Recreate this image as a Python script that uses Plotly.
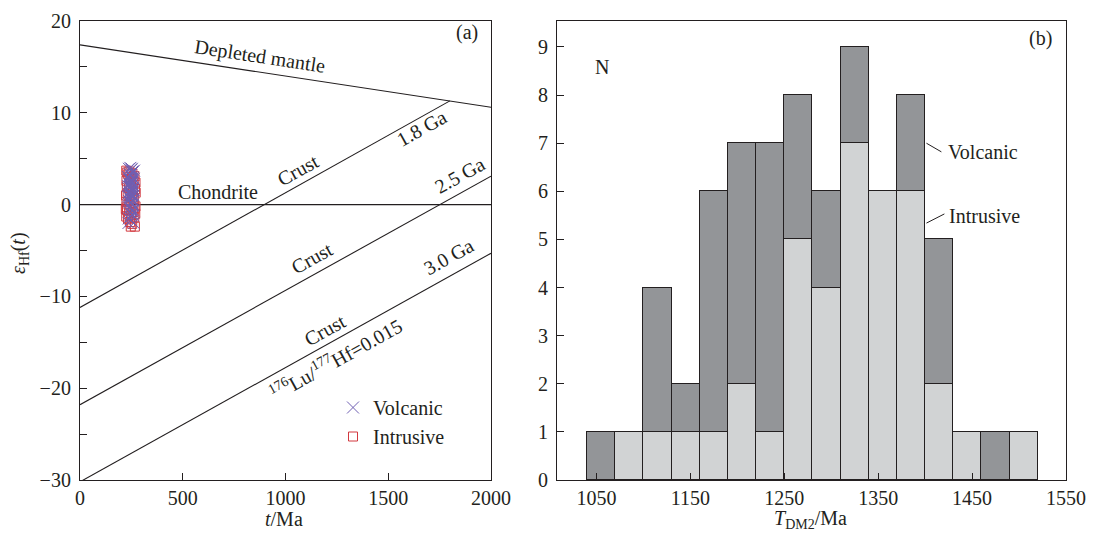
import plotly.graph_objects as go

# ---------------- data: panel (a) ----------------
volc_t = [245, 250, 255, 248, 252, 258, 242, 246, 251, 256, 260, 244, 249, 253,
          257, 247, 250, 254, 243, 259, 248, 252, 255, 246, 250, 253, 241, 257,
          249, 251, 254, 247, 245, 256, 250, 252, 236, 262, 238, 261, 234, 240,
          262, 236, 258, 238, 244, 260, 235, 255, 242, 261, 237, 247, 259, 239,
          253, 234, 263, 241]
volc_e = [4.0, 3.8, 3.5, 3.2, 3.0, 2.9, 2.7, 2.5, 2.4, 2.2, 2.0, 1.9, 1.7, 1.5,
          1.4, 1.2, 1.0, 0.9, 0.7, 0.5, 0.3, 0.1, -0.1, -0.3, -0.5, -0.7, 0.8, 1.8,
          2.6, 3.4, -1.0, -1.3, 2.1, 0.4, 1.1, 3.9, -2.0, -2.0, 3.9, 1.6, 3.0,
          2.3, 2.8, 1.2, 0.0, 0.4, -0.9, -0.6, 2.0, 3.6, 3.3, 1.0, -1.5, -1.7,
          -1.2, 2.9, 2.5, 0.9, 3.7, 1.4]

intr_t = [225, 230, 235, 240, 245, 250, 255, 260, 265, 270, 228, 238, 248, 258,
          268, 232, 242, 252, 262, 226, 236, 246, 256, 266, 229, 239, 249, 259,
          269, 234, 244, 254, 264, 227, 247, 267, 224, 223, 226, 271, 270, 225]
intr_e = [3.7, 3.5, 3.3, 3.6, 3.0, 2.8, 3.4, 2.6, 3.1, 2.4, 2.0, 1.8, 2.2, 1.5,
          1.7, 1.2, 0.9, 1.0, 0.6, 0.3, 0.0, -0.2, 0.2, -0.4, -0.6, -0.9, -1.2,
          -0.8, -1.0, -1.6, -1.9, -2.1, -1.4, -0.3, -2.4, -2.4, 1.0, -0.5, 2.6,
          1.3, -0.2, -1.3]

# evolution lines: (t in Ma, epsilon Hf)
dm_t, dm_e = [0, 2000], [17.4, 10.6]
chur_t, chur_e = [0, 2000], [0, 0]
c18_t, c18_e = [0, 1800], [-11.2, 11.3]
c25_t, c25_e = [0, 2000], [-21.8, 3.1]
c30_t, c30_e = [0, 2000], [-30.2, -5.3]

# ---------------- data: panel (b) ----------------
bin_left = [1040, 1070, 1100, 1130, 1160, 1190, 1220, 1250,
            1280, 1310, 1340, 1370, 1400, 1430, 1460, 1490]
bin_width = 30
n_intrusive = [0, 1, 1, 1, 1, 2, 1, 5, 4, 7, 6, 6, 2, 1, 0, 1]
n_volcanic = [1, 0, 3, 1, 5, 5, 6, 3, 2, 2, 0, 2, 3, 0, 1, 0]

FONT = "Liberation Serif"
INK = "#231f20"
DARK = "#939598"
LIGHT = "#d1d3d4"

fig = go.Figure()

line_style = dict(color=INK, width=1.1)
for tx, ey in [(dm_t, dm_e), (chur_t, chur_e), (c18_t, c18_e), (c25_t, c25_e), (c30_t, c30_e)]:
    fig.add_trace(go.Scatter(x=tx, y=ey, mode="lines", line=line_style,
                             showlegend=False, hoverinfo="skip", xaxis="x", yaxis="y"))

fig.add_trace(go.Scatter(x=intr_t, y=intr_e, mode="markers", name="Intrusive",
                         marker=dict(symbol="square-open", size=9,
                                     color="#d2383f", line=dict(width=1)),
                         legendgroup="b", legendrank=2, xaxis="x", yaxis="y"))
fig.add_trace(go.Scatter(x=volc_t, y=volc_e, mode="markers", name="Volcanic",
                         marker=dict(symbol="x-thin-open", size=12,
                                     color="#6f5fb3", line=dict(width=1, color="#6f5fb3")),
                         legendgroup="a", legendrank=1, xaxis="x", yaxis="y"))

centers = [b + bin_width / 2 for b in bin_left]
fig.add_trace(go.Bar(x=centers, y=[v if v else None for v in n_intrusive],
                     width=bin_width, marker=dict(color=LIGHT, line=dict(color=INK, width=1.2)),
                     showlegend=False, xaxis="x2", yaxis="y2", hoverinfo="skip"))
fig.add_trace(go.Bar(x=centers, y=[v if v else None for v in n_volcanic],
                     width=bin_width, marker=dict(color=DARK, line=dict(color=INK, width=1.2)),
                     showlegend=False, xaxis="x2", yaxis="y2", hoverinfo="skip"))

# the page body adds an 8 px offset; size the figure to fill the rest of the window
OFF = 8
W, H = 1102 - OFF, 533 - OFF
def px(x): return (x - OFF) / W
def py(y): return 1 - (y - OFF) / H

axis_common = dict(showgrid=False, zeroline=False, showline=True, linecolor=INK,
                   linewidth=1.2, mirror=True, ticks="inside", tickcolor=INK,
                   ticklen=7, tickwidth=1, automargin=False,
                   tickfont=dict(family=FONT, size=20, color=INK))

fig.update_layout(
    width=W, height=H, margin=dict(l=0, r=0, t=0, b=0, autoexpand=False),
    plot_bgcolor="white", paper_bgcolor="white",
    barmode="stack", bargap=0,
    font=dict(family=FONT, size=20, color=INK),
    xaxis=dict(domain=[px(80), px(491)], range=[0, 2000], tickvals=[0, 500, 1000, 1500, 2000],
               anchor="y", **axis_common),
    yaxis=dict(domain=[py(480), py(21)], range=[-30, 20], tickvals=[-30, -20, -10, 0, 10, 20],
               minor=dict(tickvals=[-25, -15, -5, 5, 15], ticks="inside", ticklen=7, tickcolor=INK),
               anchor="x", ticklabelstandoff=4, **axis_common),
    xaxis2=dict(domain=[px(557), px(1066)], range=[1008, 1550],
                tickvals=[1050, 1150, 1250, 1350, 1450, 1550], anchor="y2", **axis_common),
    yaxis2=dict(domain=[py(480), py(21)], range=[0, 9.54], tickvals=list(range(0, 10)),
                anchor="x2", ticklabelstandoff=4, **axis_common),
    legend=dict(x=px(333), y=py(388), xanchor="left", yanchor="top",
                bgcolor="rgba(0,0,0,0)", font=dict(family=FONT, size=20, color=INK),
                traceorder="normal", tracegroupgap=2),
)

ann = []
def a(x, y, text, angle=0, xref="x", yref="y", xanchor="center", size=20):
    ann.append(dict(x=x, y=y, xref=xref, yref=yref, text=text, showarrow=False,
                    textangle=angle, xanchor=xanchor, yanchor="middle",
                    font=dict(family=FONT, size=size, color=INK)))

a(876, 16.1, "Depleted mantle", 8.7)
a(1883, 18.8, "(a)")
a(1664, 8.34, "1.8 Ga", -29)
a(1061, 3.77, "Crust", -29)
a(672, 1.37, "Chondrite")
a(1849, 3.22, "2.5 Ga", -29)
a(1129, -5.8, "Crust", -29)
a(1791, -5.71, "3.0 Ga", -29)
a(1192, -13.66, "Crust", -29)
a(1241, -16.8, "<sup>176</sup>Lu/<sup>177</sup>Hf=0.015", -29)

a(1055.7, 8.58, "N", xref="x2", yref="y2")
a(1523, 9.17, "(b)", xref="x2", yref="y2")
a(1422.6, 6.82, "Volcanic", xref="x2", yref="y2", xanchor="left")
a(1423.7, 5.49, "Intrusive", xref="x2", yref="y2", xanchor="left")

a(px(284), py(519), "<i>t</i>/Ma", xref="paper", yref="paper")
a(px(810), py(519), "<i>T</i><sub>DM2</sub>/Ma", xref="paper", yref="paper")
a(px(19), py(253), "<i>ε</i><sub>Hf</sub>(<i>t</i>)", angle=-90, xref="paper", yref="paper")

fig.update_layout(annotations=ann)

fig.add_shape(type="line", xref="x2", yref="y2", x0=1401.4, y0=7.0, x1=1417.3, y1=6.82,
              line=dict(color=INK, width=1))
fig.add_shape(type="line", xref="x2", yref="y2", x0=1401.4, y0=5.34, x1=1420.5, y1=5.53,
              line=dict(color=INK, width=1))

fig.write_html("out.html")
